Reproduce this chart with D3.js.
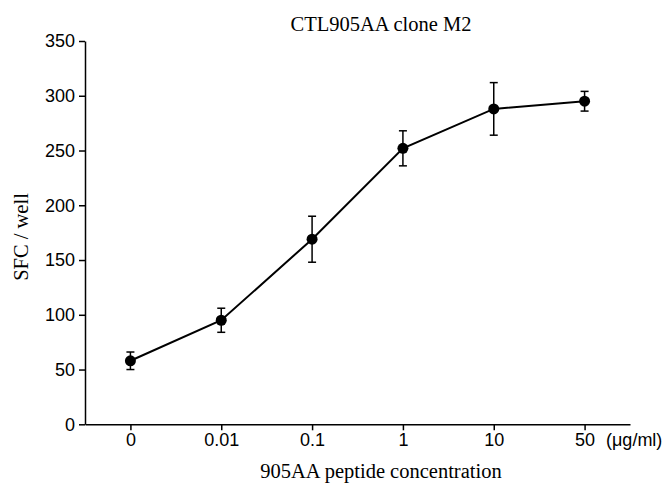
<!DOCTYPE html>
<html>
<head>
<meta charset="utf-8">
<script src="https://cdn.jsdelivr.net/npm/d3@7"></script>
<style>
  body { margin: 0; background: #fff; }
  .axis text { font-family: "Liberation Sans", Arial, sans-serif; font-size: 18px; fill: #000; }
  .axis path, .axis line { stroke: #000; stroke-width: 1.5; }
  .serif { font-family: "Liberation Serif", "Times New Roman", serif; font-size: 20.5px; fill: #000; }
</style>
</head>
<body>
<script>
// peptide doses (μg/ml) and spot-forming cells per well
var doses = ["0", "0.01", "0.1", "1", "10", "50"];
var sfc = [58, 95, 169, 252, 288, 295];
var sfcErr = [8, 11, 21, 16, 24, 9];
var yTicks = [0, 50, 100, 150, 200, 250, 300, 350];

var width = 663;
var height = 485;

var margin = {
  top: 41,
  left: 85,
  right: 33,
  bottom: 60.7
};

var points = doses.map(function(d, i) {
  return { dose: d, value: sfc[i], err: sfcErr[i] };
});

var svg = d3
  .select("body")
  .append("svg")
  .attr("width", width)
  .attr("height", height);

var x = d3
  .scalePoint()
  .domain(doses)
  .range([margin.left, width - margin.right])
  .padding(0.5);

var y = d3
  .scaleLinear()
  .domain([0, 350])
  .range([height - margin.bottom, margin.top]);

svg
  .append("g")
  .attr("class", "axis")
  .attr("transform", "translate(0," + y(0) + ")")
  .call(d3.axisBottom(x).tickSize(6).tickSizeOuter(0).tickPadding(3));

svg
  .append("g")
  .attr("class", "axis")
  .attr("transform", "translate(" + margin.left + ",0)")
  .call(
    d3
      .axisLeft(y)
      .tickValues(yTicks)
      .tickSize(6)
      .tickSizeOuter(0)
      .tickPadding(4)
  );

// unit label sits to the right of the last tick
svg
  .append("text")
  .attr("x", 606)
  .attr("y", y(0) + 9)
  .attr("dy", "0.71em")
  .style("font-family", '"Liberation Sans", Arial, sans-serif')
  .style("font-size", "18px")
  .text("(\u03bcg/ml)");

svg
  .append("text")
  .attr("class", "serif")
  .attr("x", 381)
  .attr("y", 31)
  .attr("text-anchor", "middle")
  .text("CTL905AA clone M2");

svg
  .append("text")
  .attr("class", "serif")
  .attr("x", 381)
  .attr("y", 478)
  .attr("text-anchor", "middle")
  .text("905AA peptide concentration");

svg
  .append("text")
  .attr("class", "serif")
  .attr("transform", "translate(28,237) rotate(-90)")
  .attr("text-anchor", "middle")
  .text("SFC / well");

var line = d3
  .line()
  .x(function(d) {
    return x(d.dose);
  })
  .y(function(d) {
    return y(d.value);
  });

svg
  .append("path")
  .datum(points)
  .attr("d", line)
  .attr("fill", "none")
  .attr("stroke", "#000")
  .attr("stroke-width", 2);

var bars = svg
  .append("g")
  .attr("stroke", "#000")
  .attr("stroke-width", 1.5)
  .selectAll("g")
  .data(points)
  .enter()
  .append("g");

bars
  .append("line")
  .attr("x1", function(d) {
    return x(d.dose);
  })
  .attr("x2", function(d) {
    return x(d.dose);
  })
  .attr("y1", function(d) {
    return y(d.value - d.err);
  })
  .attr("y2", function(d) {
    return y(d.value + d.err);
  });

[-1, 1].forEach(function(s) {
  bars
    .append("line")
    .attr("x1", function(d) {
      return x(d.dose) - 4;
    })
    .attr("x2", function(d) {
      return x(d.dose) + 4;
    })
    .attr("y1", function(d) {
      return y(d.value + s * d.err);
    })
    .attr("y2", function(d) {
      return y(d.value + s * d.err);
    });
});

svg
  .append("g")
  .selectAll("circle")
  .data(points)
  .enter()
  .append("circle")
  .attr("cx", function(d) {
    return x(d.dose);
  })
  .attr("cy", function(d) {
    return y(d.value);
  })
  .attr("r", 5.5)
  .attr("fill", "#000");
</script>
</body>
</html>
